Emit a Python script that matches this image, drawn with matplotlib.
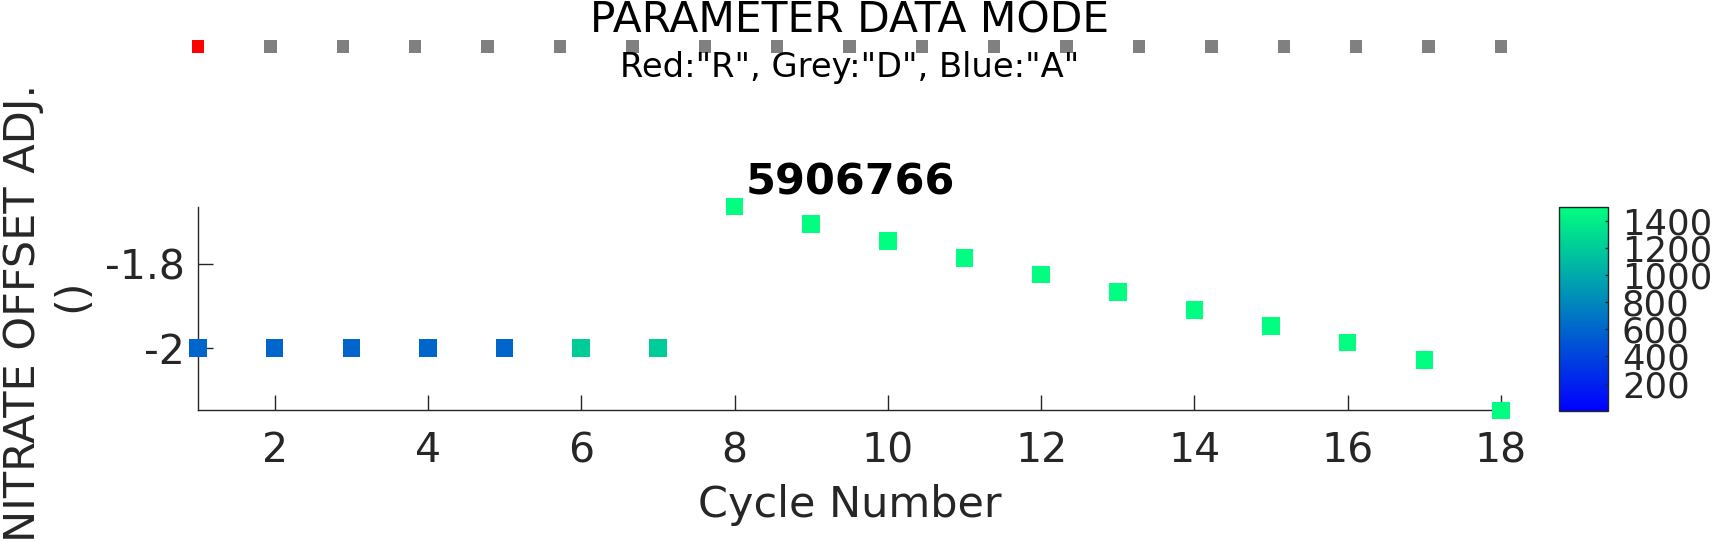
import numpy as np
import matplotlib
matplotlib.use("Agg")
import matplotlib.pyplot as plt

plt.rcParams['font.family'] = ['DejaVu Sans']
plt.rcParams['axes.unicode_minus'] = False

# data
cycles = np.arange(1, 19)
offset_adj = [-2.0, -2.0, -2.0, -2.0, -2.0, -2.0, -2.0,
              -1.665, -1.706, -1.746, -1.787, -1.826, -1.867,
              -1.909, -1.948, -1.987, -2.028, -2.147]
color_vals = [600, 600, 600, 600, 600, 1205, 1205,
              1505, 1505, 1505, 1505, 1505, 1505,
              1505, 1505, 1505, 1505, 1505]
mode_pos = np.arange(1, 20)
mode_colors = ['red'] + ['grey'] * 18
cbar_ticks = [200, 400, 600, 800, 1000, 1200, 1400]
xticks = [2, 4, 6, 8, 10, 12, 14, 16, 18]
yticks = [-2, -1.8]

W, H = 1715, 542
dark = '#262626'
fig = plt.figure(figsize=(W / 100, H / 100), dpi=100)

def box(x0, y0, x1, y1):
    # pixel box (top-left origin) -> figure fraction rect
    return [x0 / W, 1 - y1 / H, (x1 - x0) / W, (y1 - y0) / H]

# main axes
ax = fig.add_axes(box(198, 206.7, 1501, 410.3))
sc = ax.scatter(cycles, offset_adj, c=color_vals, cmap='winter', vmin=0, vmax=1505,
                marker='s', s=160, linewidths=0, clip_on=False, zorder=3)
ax.set_xlim(1, 18)
ax.set_ylim(min(offset_adj), max(offset_adj))
ax.set_xticks(xticks)
ax.set_yticks(yticks)
ax.set_yticklabels(['-2', '-1.8'])
for s in ['top', 'right']:
    ax.spines[s].set_visible(False)
for s in ['left', 'bottom']:
    ax.spines[s].set_color(dark)
    ax.spines[s].set_linewidth(1.0)
ax.tick_params(axis='both', direction='in', length=10.5, width=1.0, color=dark,
               labelcolor=dark, labelsize=29.5)
ax.tick_params(axis='x', pad=15)
ax.tick_params(axis='y', pad=9.5)

# colorbar
cax = fig.add_axes(box(1559, 206.7, 1608, 410.7))
cb = fig.colorbar(sc, cax=cax, ticks=cbar_ticks)
cb.outline.set_edgecolor(dark)
cb.outline.set_linewidth(1.0)
cax.tick_params(direction='in', length=2.5, width=1.0, color=dark,
                labelcolor=dark, labelsize=25.5, pad=10)

# mode strip
max_ = fig.add_axes(box(198, 36, 1501, 57))
max_.scatter(mode_pos, np.ones(len(mode_pos)), c=mode_colors, marker='s', s=80,
             linewidths=0, clip_on=False)
max_.set_xlim(1, 19)
max_.set_ylim(0, 2)
max_.axis('off')

cx = 850 / W
fig.text(cx, 1 - 32.5 / H, 'PARAMETER DATA MODE', ha='center', va='baseline', fontsize=30.5)
fig.text(cx, 1 - 77.5 / H, 'Red:"R", Grey:"D", Blue:"A"', ha='center', va='baseline',
         fontsize=24.3)
fig.text(cx, 1 - 194.3 / H, '5906766', ha='center', va='baseline', fontsize=31,
         fontweight='bold')
fig.text(cx, 1 - 517 / H, 'Cycle Number', ha='center', va='baseline', fontsize=31,
         color=dark)
fig.text(35 / W, 1 - 313 / H, 'NITRATE OFFSET ADJ.', rotation=90, rotation_mode='anchor',
         ha='center', va='baseline', fontsize=31, color=dark)
fig.text(84 / W, 1 - 295 / H, '()', rotation=90, rotation_mode='anchor',
         ha='center', va='baseline', fontsize=31, color=dark)

fig.savefig('out.png', dpi=100)
